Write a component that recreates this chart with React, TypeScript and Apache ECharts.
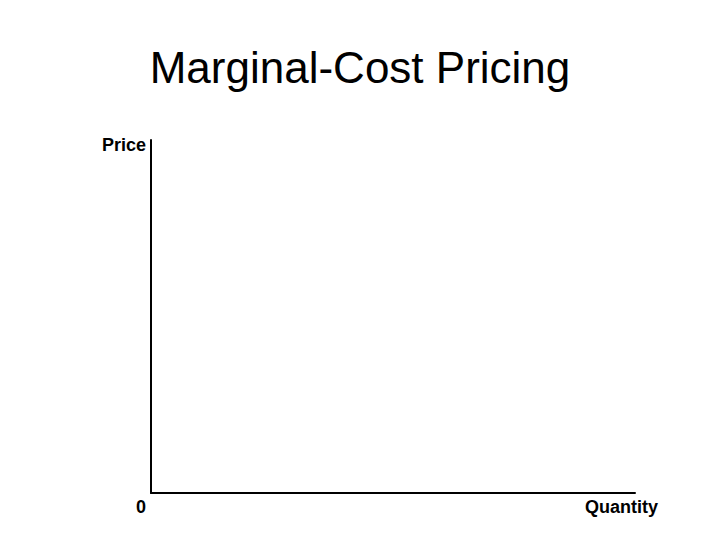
import React, { useEffect, useRef } from "react";
import * as echarts from "echarts";

const titleText = "Marginal-Cost Pricing";
const xAxisName = "Quantity";
const yAxisName = "Price";
const originLabel = "0";
const axisMin = 0;
const axisMax = 10;

export default function App() {
  const ref = useRef<HTMLDivElement>(null);
  useEffect(() => {
    if (!ref.current) return;
    const chart = echarts.init(ref.current, null, { renderer: "svg" });
    const font = "'Liberation Sans', Arial, sans-serif";
    chart.setOption({
      animation: false,
      backgroundColor: "#ffffff",
      title: {
        text: titleText,
        left: "center",
        top: 40,
        textStyle: { fontFamily: font, fontSize: 44, fontWeight: "normal", color: "#000" },
      },
      grid: { left: 151, right: 85, top: 140, bottom: 47 },
      xAxis: {
        type: "value",
        min: axisMin,
        max: axisMax,
        name: xAxisName,
        nameLocation: "end",
        nameGap: -50,
        nameTextStyle: {
          fontFamily: font, fontSize: 18, fontWeight: "bold", color: "#000",
          align: "left", verticalAlign: "top", lineHeight: 28,
        },
        axisLine: { show: true, lineStyle: { color: "#000", width: 2 } },
        axisTick: { show: false },
        axisLabel: { show: false },
        splitLine: { show: false },
      },
      yAxis: {
        type: "value",
        min: axisMin,
        max: axisMax,
        name: yAxisName,
        nameLocation: "end",
        nameGap: -5,
        nameTextStyle: {
          fontFamily: font, fontSize: 18, fontWeight: "bold", color: "#000",
          align: "right", verticalAlign: "middle", padding: [0, 5, 0, 0],
        },
        axisLine: { show: true, lineStyle: { color: "#000", width: 2 } },
        axisTick: { show: false },
        axisLabel: {
          show: true,
          showMinLabel: true,
          margin: 5,
          fontFamily: font, fontSize: 18, fontWeight: "bold", color: "#000",
          verticalAlign: "top",
          lineHeight: 27,
          formatter: (v: number) => (v === axisMin ? originLabel : ""),
        },
        splitLine: { show: false },
      },
      series: [],
    });
    return () => chart.dispose();
  }, []);
  return (
    <div
      ref={ref}
      style={{ position: "absolute", left: 0, top: 0, width: 720, height: 540 }}
    />
  );
}
